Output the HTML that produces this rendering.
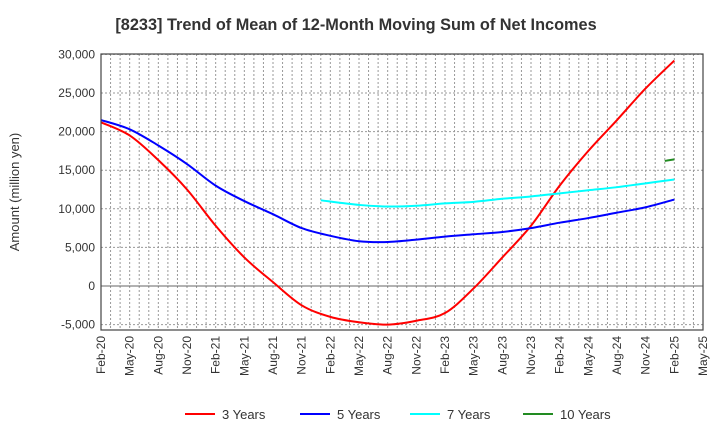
<!DOCTYPE html>
<html><head><meta charset="utf-8"><style>
body{margin:0;background:#fff;font-family:"Liberation Sans",sans-serif;}
svg text{font-family:"Liberation Sans",sans-serif;}
</style></head><body>
<svg id="chart" width="720" height="440">
<text x="356" y="30" text-anchor="middle" font-size="16.3" font-weight="bold" fill="#333">[8233]  Trend of Mean of 12-Month Moving Sum of Net Incomes</text>
<g id="grid"></g><g id="series"></g><g id="axes"></g>
<text transform="translate(19,192) rotate(-90)" text-anchor="middle" font-size="13" fill="#333">Amount (million yen)</text>
<g id="legend"></g>
</svg>
<script>
const xLabels=["Feb-20","May-20","Aug-20","Nov-20","Feb-21","May-21","Aug-21","Nov-21","Feb-22","May-22","Aug-22","Nov-22","Feb-23","May-23","Aug-23","Nov-23","Feb-24","May-24","Aug-24","Nov-24","Feb-25","May-25"];
const yTicks=[-5000,0,5000,10000,15000,20000,25000,30000];
const s3=[21200,19500,16300,12500,7800,3700,500,-2500,-4000,-4700,-5000,-4500,-3500,-300,3700,7800,13000,17500,21500,25600,29200];
const s5=[21500,20300,18200,15800,13000,11000,9300,7500,6500,5800,5700,6000,6400,6700,7000,7500,8200,8800,9500,10200,11200];
const s7=[11100,10500,10300,10400,10700,10900,11300,11600,12000,12400,12800,13300,13800];
const s7Months=[23,27,30,33,36,39,42,45,48,51,54,57,60];
const s10=[16200,16400];
const s10Months=[59,60];
const L=101,R=703,T=54,B=330;
const x=m=>L+m*(R-L)/63;
const y=v=>286-(v)*38.6/5000;
const NS="http://www.w3.org/2000/svg";
function mk(t,a,p){const e=document.createElementNS(NS,t);for(const k in a)e.setAttribute(k,a[k]);p.appendChild(e);return e;}
const grid=document.getElementById('grid'),axes=document.getElementById('axes'),ser=document.getElementById('series'),leg=document.getElementById('legend');
for(let m=1;m<63;m++){const g=mk('line',{x1:x(m),x2:x(m),y1:T,y2:B,stroke:'#999','stroke-dasharray':'2,2','stroke-width':1},grid);

}
yTicks.forEach(v=>{const g=mk('line',{x1:L,x2:R,y1:y(v),y2:y(v),stroke:v===0?'#666':'#999','stroke-dasharray':v===0?'':'2,2','stroke-width':1},grid);


const t=mk('text',{x:L-6,y:y(v)+4,'text-anchor':'end','font-size':12,fill:'#333'},axes);t.textContent=v.toLocaleString('en-US');

});
mk('rect',{x:L,y:T,width:R-L,height:B-T,fill:'none',stroke:'#444','stroke-width':1.2},axes);
xLabels.forEach((l,i)=>{const xx=x(i*3);const t=mk('text',{transform:`translate(${xx+4},${B+6}) rotate(-90)`,'text-anchor':'end','font-size':12,fill:'#333'},axes);t.textContent=l;

});
function path(pts){let d=`M${pts[0][0]},${pts[0][1]}`;for(let i=0;i<pts.length-1;i++){const p0=pts[i-1]||pts[i],p1=pts[i],p2=pts[i+1],p3=pts[i+2]||p2;
d+=` C${p1[0]+(p2[0]-p0[0])/6},${p1[1]+(p2[1]-p0[1])/6} ${p2[0]-(p3[0]-p1[0])/6},${p2[1]-(p3[1]-p1[1])/6} ${p2[0]},${p2[1]}`;}return d;}
function draw(pts,c,n){const p=mk('path',{d:path(pts),fill:'none',stroke:c,'stroke-width':2},ser);

}
draw(s3.map((v,i)=>[x(i*3),y(v)]),'#ff0000','line-3-years');
draw(s5.map((v,i)=>[x(i*3),y(v)]),'#0000ff','line-5-years');
draw(s7.map((v,i)=>[x(s7Months[i]),y(v)]),'#00ffff','line-7-years');
draw(s10.map((v,i)=>[x(s10Months[i]),y(v)]),'#228b22','line-10-years');
[["3 Years","#ff0000",185],["5 Years","#0000ff",300],["7 Years","#00ffff",410],["10 Years","#228b22",523]].forEach(([n,c,lx])=>{
const g=mk('g',{},leg);


mk('line',{x1:lx,x2:lx+30,y1:414,y2:414,stroke:c,'stroke-width':2},g);
const t=mk('text',{x:lx+37,y:419,'font-size':13,fill:'#333'},g);t.textContent=n;});
</script>
</body></html>
